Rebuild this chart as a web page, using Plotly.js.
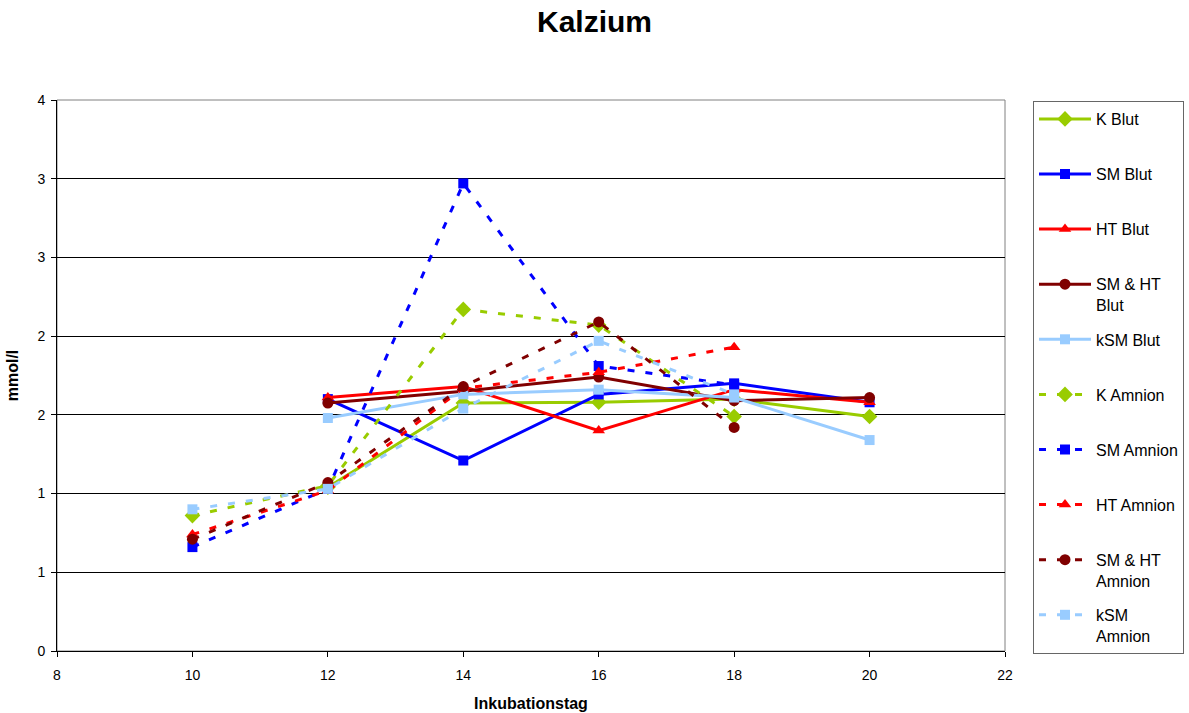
<!DOCTYPE html>
<html>
<head>
<meta charset="utf-8">
<script src="https://cdn.plot.ly/plotly-3.0.1.min.js"></script>
<style>
  html, body { margin: 0; padding: 0; background: #fff; }
  #chart { width: 1189px; height: 713px; }
</style>
</head>
<body>
<div id="chart"></div>
<script>
// Incubation days
const days = [10, 12, 14, 16, 18, 20];

// Calcium (mmol/l) in blood
const kBlut      = [null, 1.04, 1.575, 1.58, 1.60, 1.49];
const smBlut     = [null, 1.60, 1.21, 1.63, 1.70, 1.58];
const htBlut     = [null, 1.61, 1.68, 1.40, 1.66, 1.58];
const smhtBlut   = [null, 1.575, 1.65, 1.74, 1.59, 1.61];
const ksmBlut    = [null, 1.48, 1.63, 1.66, 1.61, 1.34];

// Calcium (mmol/l) in amniotic fluid
const kAmnion    = [0.86, 1.05, 2.17, 2.07, 1.49];
const smAmnion   = [0.66, 1.03, 2.97, 1.81, 1.69];
const htAmnion   = [0.74, 1.02, 1.67, 1.77, 1.93];
const smhtAmnion = [0.71, 1.07, 1.68, 2.09, 1.42];
const ksmAmnion  = [0.90, 1.03, 1.54, 1.97, 1.63];

// y tick positions and their (integer-rounded) labels
const yTickVals = [0, 0.5, 1, 1.5, 2, 2.5, 3, 3.5];
const yTickText = ['0', '1', '1', '2', '2', '3', '3', '4'];

// every legend entry takes two text lines so the entries are evenly spaced
const NB = '\u00a0';
const FONT = 'Liberation Sans, Arial, sans-serif';

function series(name, y, color, symbol, size, dashed) {
  return {
    type: 'scatter',
    mode: 'lines+markers',
    name: name,
    legendgroup: name,
    x: days.slice(0, y.length),
    y: y,
    connectgaps: false,
    line: { color: color, width: 3, dash: dashed ? '7px,11px' : 'solid' },
    marker: { color: color, symbol: symbol, size: size, line: { width: 0 } }
  };
}

const traces = [
  series('K Blut<br>' + NB, kBlut, '#99CC00', 'diamond', 12, false),
  series('SM Blut<br>' + NB, smBlut, '#0000FF', 'square', 10, false),
  series('HT Blut<br>' + NB, htBlut, '#FF0000', 'triangle-up', 11, false),
  series('SM & HT<br>Blut', smhtBlut, '#800000', 'circle', 11, false),
  series('kSM Blut<br>' + NB, ksmBlut, '#99CCFF', 'square', 10, false),
  series('K Amnion<br>' + NB, kAmnion, '#99CC00', 'diamond', 12, true),
  series('SM Amnion<br>' + NB, smAmnion, '#0000FF', 'square', 10, true),
  series('HT Amnion<br>' + NB, htAmnion, '#FF0000', 'triangle-up', 11, true),
  series('SM & HT<br>Amnion', smhtAmnion, '#800000', 'circle', 11, true),
  series('kSM<br>Amnion', ksmAmnion, '#99CCFF', 'square', 10, true)
];

const layout = {
  width: 1189,
  height: 713,
  paper_bgcolor: '#fff',
  plot_bgcolor: '#fff',
  font: { family: FONT, size: 14, color: '#000' },
  margin: { l: 57, r: 184, t: 100, b: 62 },
  title: {
    text: '<b>Kalzium</b>',
    font: { family: FONT, size: 30, color: '#000' },
    x: 0.5, xref: 'container', xanchor: 'center',
    y: 0.97, yref: 'container', yanchor: 'middle'
  },
  xaxis: {
    range: [8, 22],
    tickmode: 'linear', tick0: 8, dtick: 2,
    ticks: 'outside', ticklen: 5, tickcolor: '#000',
    ticklabelstandoff: 6,
    showline: true, linecolor: '#000', linewidth: 1,
    showgrid: false, zeroline: false,
    tickfont: { family: FONT, size: 14, color: '#000' },
    title: { text: '<b>Inkubationstag</b>', font: { family: FONT, size: 16, color: '#000' }, standoff: 16 }
  },
  yaxis: {
    range: [0, 3.5],
    tickmode: 'array', tickvals: yTickVals, ticktext: yTickText,
    ticks: 'outside', ticklen: 5, tickcolor: '#000',
    ticklabelstandoff: 3,
    showline: true, linecolor: '#000', linewidth: 1,
    showgrid: true, gridcolor: '#000', gridwidth: 1,
    zeroline: false,
    tickfont: { family: FONT, size: 14, color: '#000' },
    title: { text: '<b>mmol/l</b>', font: { family: FONT, size: 16, color: '#000' }, standoff: 14 }
  },
  shapes: [
    { type: 'rect', xref: 'paper', yref: 'paper', x0: 0, x1: 1, y0: 0, y1: 1,
      line: { color: '#808080', width: 1 }, fillcolor: 'rgba(0,0,0,0)', layer: 'below' }
  ],
  showlegend: true,
  legend: {
    x: 1033 / 1189, xanchor: 'left', xref: 'container',
    y: 1 - 101 / 713, yanchor: 'top', yref: 'container',
    maxheight: 700,
    bgcolor: '#fff', bordercolor: '#666', borderwidth: 1,
    font: { family: FONT, size: 16, color: '#000' },
    traceorder: 'grouped',
    tracegroupgap: 10.5,
    valign: 'top',
    itemwidth: 52
  }
};

Plotly.newPlot('chart', traces, layout, { staticPlot: true, displayModeBar: false });
</script>
</body>
</html>
